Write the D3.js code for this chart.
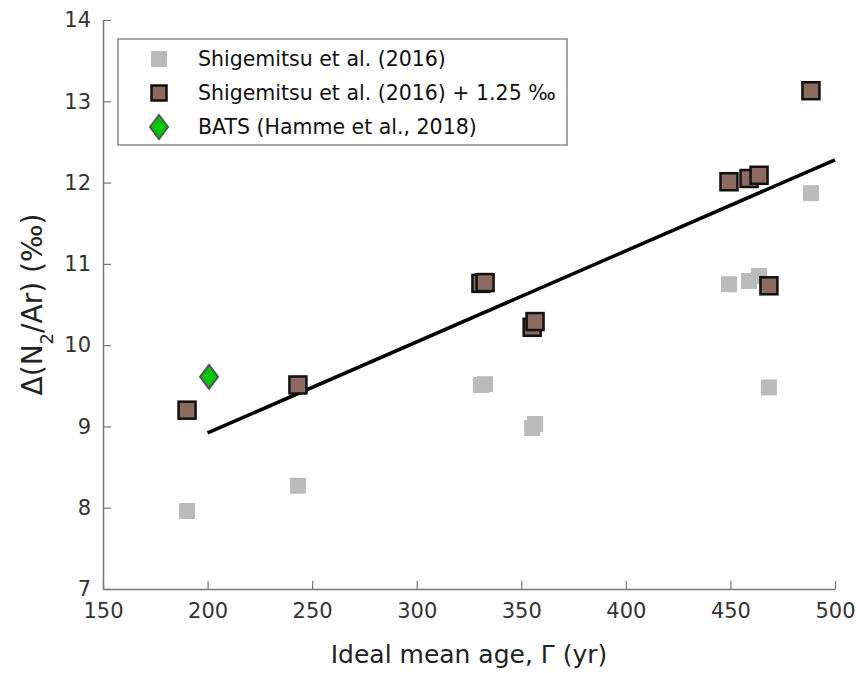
<!DOCTYPE html>
<html>
<head>
<meta charset="utf-8">
<script src="https://cdn.jsdelivr.net/npm/d3@7"></script>
<style>
  body { margin: 0; background: #fff; }
  text { font-family: "DejaVu Sans", sans-serif; }
</style>
</head>
<body>
<script>
// data
var ageShig = [190.2, 243.2, 330.7, 332.7, 355.2, 356.6, 449.3, 458.9, 463.7, 468.4, 488.5];
var n2arShig = [7.96, 8.27, 9.51, 9.52, 8.98, 9.03, 10.75, 10.79, 10.85, 9.48, 11.87];
var n2arShigPlus = [9.20, 9.51, 10.76, 10.77, 10.22, 10.29, 12.01, 12.05, 12.09, 10.73, 13.13];
var ageBats = [200.7];
var n2arBats = [9.61];
var fitAge = [200, 500];
var fitN2ar = [8.92, 12.28];
var xTicks = [150, 200, 250, 300, 350, 400, 450, 500];
var yTicks = [7, 8, 9, 10, 11, 12, 13, 14];

var svgWidth = 856;
var svgHeight = 673;

var margin = { top: 20, right: 21, bottom: 84, left: 103 };
var width = svgWidth - margin.left - margin.right;
var height = svgHeight - margin.top - margin.bottom;

var svg = d3.select("body")
  .append("svg")
  .attr("width", svgWidth)
  .attr("height", svgHeight);

var chartGroup = svg.append("g")
  .attr("transform", `translate(${margin.left}, ${margin.top})`);

var xScale = d3.scaleLinear().domain([150, 500]).range([0, width]);
var yScale = d3.scaleLinear().domain([7, 14]).range([height, 0]);

// axes with inward ticks
var bottomAxis = d3.axisBottom(xScale).tickValues(xTicks).tickFormat(d3.format("d"))
  .tickSizeInner(-8).tickSizeOuter(0).tickPadding(14);
var leftAxis = d3.axisLeft(yScale).tickValues(yTicks).tickFormat(d3.format("d"))
  .tickSizeInner(-8).tickSizeOuter(0).tickPadding(12);

var xAxisG = chartGroup.append("g")
  .attr("transform", `translate(0, ${height})`)
  .call(bottomAxis);
var yAxisG = chartGroup.append("g").call(leftAxis);

[xAxisG, yAxisG].forEach(function(g) {
  g.select(".domain").attr("stroke", "#777").attr("stroke-width", 1.5);
  g.selectAll(".tick line").attr("stroke", "#777").attr("stroke-width", 1.2);
  g.selectAll(".tick text").attr("fill", "#333").style("font-size", "21px");
});

// fit line
var fitData = fitAge.map((a, i) => ({ x: a, y: fitN2ar[i] }));
chartGroup.append("path")
  .datum(fitData)
  .attr("fill", "none")
  .attr("stroke", "#000")
  .attr("stroke-width", 3.5)
  .attr("d", d3.line().x(d => xScale(d.x)).y(d => yScale(d.y)));

// gray squares
var gs = 16;
chartGroup.selectAll(".shig")
  .data(ageShig)
  .enter()
  .append("rect")
  .attr("x", d => xScale(d) - gs / 2)
  .attr("y", (d, i) => yScale(n2arShig[i]) - gs / 2)
  .attr("width", gs)
  .attr("height", gs)
  .attr("fill", "#bbbbbb");

// brown squares
var bs = 17;
chartGroup.selectAll(".shigPlus")
  .data(ageShig)
  .enter()
  .append("rect")
  .attr("x", d => xScale(d) - bs / 2)
  .attr("y", (d, i) => yScale(n2arShigPlus[i]) - bs / 2)
  .attr("width", bs)
  .attr("height", bs)
  .attr("fill", "#8c6b5e")
  .attr("stroke", "#111")
  .attr("stroke-width", 2.5);

// BATS diamond
function diamond(cx, cy) {
  return `M${cx},${cy - 12}L${cx + 9},${cy}L${cx},${cy + 12}L${cx - 9},${cy}Z`;
}
chartGroup.selectAll(".bats")
  .data(ageBats)
  .enter()
  .append("path")
  .attr("d", (d, i) => diamond(xScale(d), yScale(n2arBats[i])))
  .attr("fill", "#00c800")
  .attr("stroke", "#555")
  .attr("stroke-width", 2);

// legend
var legend = svg.append("g");
legend.append("rect")
  .attr("x", 118).attr("y", 39)
  .attr("width", 449).attr("height", 106)
  .attr("fill", "#fff")
  .attr("stroke", "#888")
  .attr("stroke-width", 1.5);

legend.append("rect")
  .attr("x", 159 - gs / 2).attr("y", 59 - gs / 2)
  .attr("width", gs).attr("height", gs)
  .attr("fill", "#bbbbbb");
legend.append("rect")
  .attr("x", 159 - 7.5).attr("y", 93 - 7.5)
  .attr("width", 15).attr("height", 15)
  .attr("fill", "#8c6b5e")
  .attr("stroke", "#111")
  .attr("stroke-width", 2.5);
legend.append("path")
  .attr("d", diamond(159, 127))
  .attr("fill", "#00c800")
  .attr("stroke", "#555")
  .attr("stroke-width", 2);

var legendLabels = ["Shigemitsu et al. (2016)", "Shigemitsu et al. (2016) + 1.25 ‰", "BATS (Hamme et al., 2018)"];
legend.selectAll(".lt")
  .data(legendLabels)
  .enter()
  .append("text")
  .attr("x", 198)
  .attr("y", (d, i) => 59 + i * 34)
  .attr("dy", "0.35em")
  .style("font-size", "20.5px")
  .attr("fill", "#111")
  .text(d => d);

// axis labels
svg.append("text")
  .attr("transform", `translate(42, ${margin.top + height / 2}) rotate(-90)`)
  .attr("text-anchor", "middle")
  .style("font-size", "28px")
  .attr("fill", "#222")
  .html("Δ(N<tspan baseline-shift='sub' font-size='18px'>2</tspan>/Ar) (‰)");

svg.append("text")
  .attr("x", margin.left + width / 2)
  .attr("y", 663)
  .attr("text-anchor", "middle")
  .style("font-size", "25px")
  .attr("fill", "#222")
  .text("Ideal mean age, Γ (yr)");
</script>
</body>
</html>
